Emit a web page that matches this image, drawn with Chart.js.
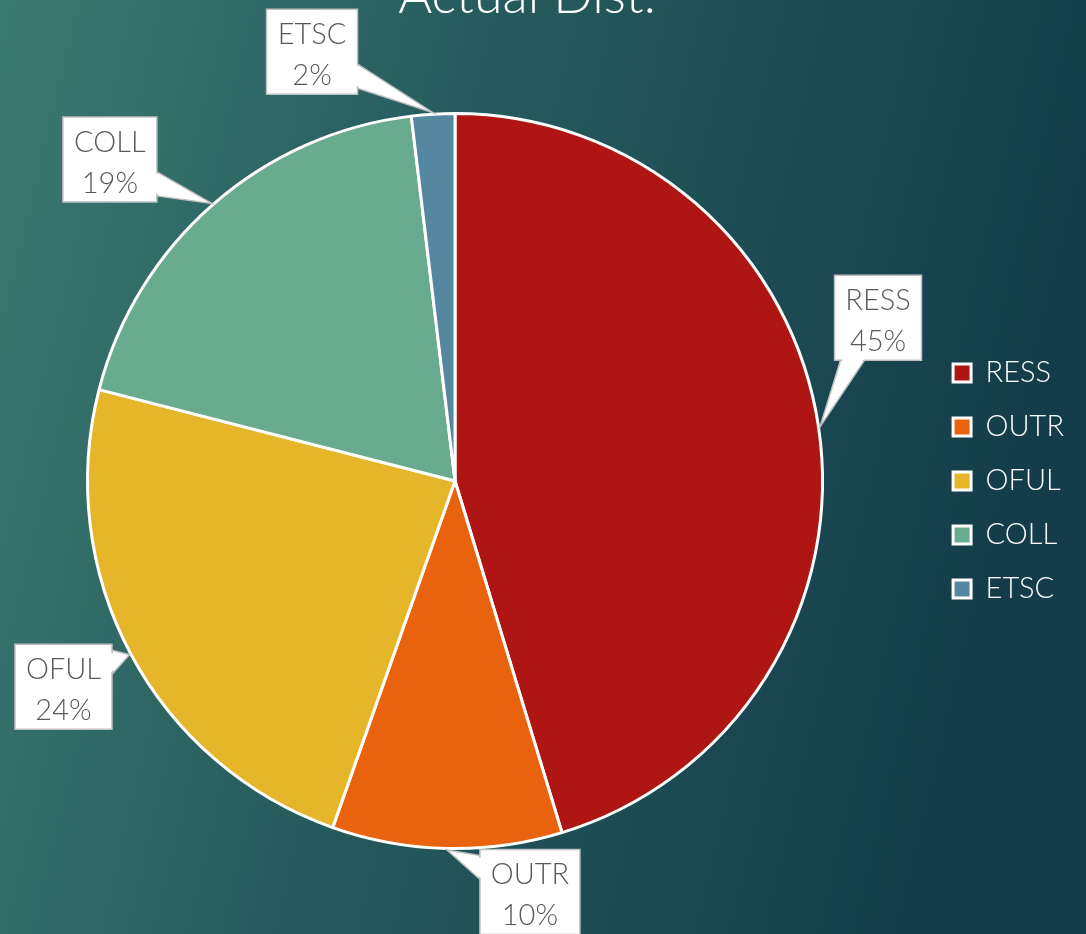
<!DOCTYPE html>
<html>
<head>
<meta charset="utf-8">
<script src="https://cdn.jsdelivr.net/npm/chart.js@4.4.1/dist/chart.umd.min.js"></script>
<style>
  html, body { margin: 0; padding: 0; background: #1f5057; }
  #wrap { width: 1086px; height: 934px; }
</style>
</head>
<body>
<div id="wrap"><canvas id="c" width="1086" height="934"></canvas></div>
<script>
const titleText = 'Actual Dist.';
const categories = ['RESS', 'OUTR', 'OFUL', 'COLL', 'ETSC'];
const values = [45.3, 10.1, 23.6, 19.1, 1.9];
const percentLabels = ['45%', '10%', '24%', '19%', '2%'];
const sliceColors = ['#AE1513', '#E9630F', '#E5B52A', '#69AB8E', '#5587A0'];
// callout box centre offsets from the slice's outer mid point (layout only)
const calloutOffsets = [[58, -109], [83, 42], [-66, 32], [-102, -44], [-121, -61]];

const bgPlugin = {
  id: 'bg',
  beforeDraw(chart) {
    const ctx = chart.ctx;
    const w = chart.width, h = chart.height;
    const g = ctx.createLinearGradient(0, 0, w, 260);
    g.addColorStop(0, '#3b7a70');
    g.addColorStop(0.45, '#255a5c');
    g.addColorStop(1, '#143c4a');
    ctx.save();
    ctx.fillStyle = g;
    ctx.fillRect(0, 0, w, h);
    ctx.restore();
  }
};

// widen the plot area to the left so the pie sits left of centre, as in the reference
const areaPlugin = {
  id: 'area',
  afterLayout(chart) {
    const a = chart.chartArea;
    a.left = -18;
    a.width = a.right - a.left;
  }
};

const titlePlugin = {
  id: 'cutTitle',
  afterDraw(chart) {
    const ctx = chart.ctx;
    ctx.save();
    ctx.font = '300 52px Lato';
    ctx.fillStyle = '#ffffff';
    ctx.textAlign = 'center';
    ctx.textBaseline = 'alphabetic';
    ctx.fillText(titleText, 527, 13);
    ctx.restore();
  }
};

const calloutPlugin = {
  id: 'callouts',
  afterDatasetsDraw(chart) {
    const ctx = chart.ctx;
    const meta = chart.getDatasetMeta(0);
    ctx.save();
    ctx.font = '300 29px Lato';
    meta.data.forEach((arc, i) => {
      const p = arc.getProps(['x', 'y', 'startAngle', 'endAngle', 'outerRadius'], true);
      const mid = (p.startAngle + p.endAngle) / 2;
      const R = p.outerRadius + 1.5;
      const tx = p.x + Math.cos(mid) * R;
      const ty = p.y + Math.sin(mid) * R;
      const l1 = categories[i], l2 = percentLabels[i];
      const tw = Math.max(ctx.measureText(l1).width, ctx.measureText(l2).width);
      const bw = Math.round(tw + 22), bh = 85;
      const cx = tx + calloutOffsets[i][0], cy = ty + calloutOffsets[i][1];
      const left = cx - bw / 2, top = cy - bh / 2, right = left + bw, bottom = top + bh;
      const dxOut = tx < left ? left - tx : (tx > right ? tx - right : 0);
      const dyOut = ty < top ? top - ty : (ty > bottom ? ty - bottom : 0);
      const ww = 24;
      let b1, b2;
      if (dxOut >= dyOut) {
        const ex = tx < left ? left : right;
        let c = Math.min(Math.max(ty, top + ww / 2 + 6), bottom - ww / 2 - 6);
        b1 = [ex, c - ww / 2]; b2 = [ex, c + ww / 2];
      } else {
        const ey = ty < top ? top : bottom;
        let c = Math.min(Math.max(tx, left + ww / 2 + 6), right - ww / 2 - 6);
        b1 = [c - ww / 2, ey]; b2 = [c + ww / 2, ey];
      }
      ctx.lineWidth = 1.5;
      ctx.strokeStyle = '#bfbfbf';
      ctx.fillStyle = '#ffffff';
      ctx.beginPath();
      ctx.moveTo(b1[0], b1[1]); ctx.lineTo(tx, ty); ctx.lineTo(b2[0], b2[1]); ctx.closePath();
      ctx.fill(); ctx.stroke();
      ctx.beginPath();
      ctx.rect(left, top, bw, bh);
      ctx.fill(); ctx.stroke();
      ctx.beginPath();
      const mx = (b1[0] + b2[0]) / 2, my = (b1[1] + b2[1]) / 2;
      const ix = (cx - mx), iy = (cy - my);
      const il = Math.hypot(ix, iy);
      const ox = ix / il * 2, oy = iy / il * 2;
      const sx = (tx - mx), sy = (ty - my), sl = Math.hypot(sx, sy);
      const px = sx / sl * 2, py = sy / sl * 2;
      const bx = (b2[0] - b1[0]) / ww, by = (b2[1] - b1[1]) / ww;
      ctx.moveTo(b1[0] + bx * 1.5 + ox, b1[1] + by * 1.5 + oy);
      ctx.lineTo(b2[0] - bx * 1.5 + ox, b2[1] - by * 1.5 + oy);
      ctx.lineTo(tx - px * 4, ty - py * 4);
      ctx.closePath();
      ctx.fill();
      ctx.fillStyle = '#595959';
      ctx.textAlign = 'center';
      ctx.textBaseline = 'alphabetic';
      ctx.fillText(l1, cx, top + 35);
      ctx.fillText(l2, cx, top + 76);
    });
    ctx.restore();
  }
};

new Chart(document.getElementById('c'), {
  type: 'pie',
  data: {
    labels: categories,
    datasets: [{
      data: values,
      backgroundColor: sliceColors,
      borderColor: '#ffffff',
      borderWidth: 3
    }]
  },
  options: {
    responsive: false,
    animation: false,
    events: [],
    layout: { padding: { top: 112, bottom: 84, left: 0, right: 12 } },
    plugins: {
      tooltip: { enabled: false },
      title: { display: false },
      legend: {
        position: 'right',
        labels: {
          color: '#ffffff',
          font: { family: 'Lato', size: 29, weight: '300' },
          boxWidth: 18,
          boxHeight: 18,
          padding: 25
        }
      }
    }
  },
  plugins: [bgPlugin, areaPlugin, titlePlugin, calloutPlugin]
});
</script>
</body>
</html>
